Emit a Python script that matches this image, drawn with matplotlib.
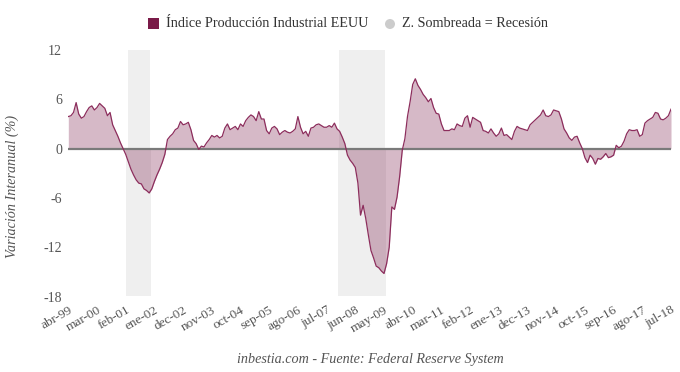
import matplotlib
matplotlib.use("Agg")
import matplotlib.pyplot as plt
import numpy as np

# ---- data ----
months_es = ["ene", "feb", "mar", "abr", "may", "jun", "jul", "ago", "sep", "oct", "nov", "dec"]
start_year, start_month = 1999, 4  # abr-99
values = [
    3.9, 4.0, 4.4, 5.6, 4.2, 3.7, 3.9, 4.5, 5.0, 5.2,
    4.7, 5.0, 5.5, 5.2, 4.9, 4.0, 4.4, 2.9, 2.2, 1.5,
    0.7, 0.0, -0.7, -1.6, -2.5, -3.2, -3.8, -4.2, -4.3, -4.9,
    -5.1, -5.4, -4.9, -4.0, -3.2, -2.5, -1.7, -0.7, 1.1, 1.5,
    1.8, 2.3, 2.5, 3.3, 2.9, 3.0, 3.2, 2.3, 1.0, 0.6,
    -0.1, 0.3, 0.2, 0.7, 1.1, 1.6, 1.4, 1.6, 1.3, 1.5,
    2.5, 3.0, 2.3, 2.5, 2.7, 2.3, 3.0, 2.7, 3.4, 3.8,
    4.1, 3.9, 3.4, 4.5, 3.6, 3.6, 2.2, 1.8, 2.5, 2.7,
    2.4, 1.7, 2.0, 2.2, 2.0, 1.9, 2.1, 2.4, 3.9, 2.6,
    1.8, 2.1, 1.5, 2.5, 2.6, 2.9, 3.0, 2.8, 2.6, 2.6,
    2.8, 2.6, 3.1, 2.4, 2.1, 1.4, 0.6, -0.8, -1.4, -1.8,
    -2.3, -4.2, -8.1, -6.9, -8.5, -10.5, -12.4, -13.3, -14.3, -14.5,
    -14.9, -15.2, -14.0, -12.0, -7.1, -7.4, -5.9, -3.4, -0.2, 1.2,
    3.9, 5.7, 7.8, 8.5, 7.7, 7.2, 6.6, 6.2, 5.7, 6.1,
    5.0, 4.3, 4.2, 3.0, 2.2, 2.2, 2.2, 2.4, 2.3, 3.0,
    2.8, 2.7, 3.7, 4.0, 2.6, 3.8, 3.6, 3.4, 3.2, 2.2,
    2.1, 1.9, 2.4, 1.9, 1.5, 1.8, 2.5, 1.6, 1.7, 1.4,
    1.1, 2.1, 2.7, 2.5, 2.4, 2.3, 2.2, 2.9, 3.2, 3.5,
    3.8, 4.1, 4.7, 4.0, 3.9, 4.1, 4.7, 4.6, 4.5, 3.6,
    2.4, 1.9, 1.3, 1.0, 1.4, 1.5, 0.7, 0.0, -1.1, -1.7,
    -0.8, -1.2, -1.9, -1.2, -1.3, -1.0, -0.6, -1.1, -1.0, -0.8,
    0.4, 0.1, 0.3, 0.9, 1.8, 2.3, 2.2, 2.2, 2.3, 1.5,
    1.7, 3.1, 3.4, 3.6, 3.8, 4.4, 4.3, 3.6, 3.5, 3.7,
    4.0, 4.8,
]
# recession periods (first and last month, as labels)
recessions = [("mar-01", "nov-01"), ("dec-07", "may-09")]
y_ticks = [-18, -12, -6, 0, 6, 12]
tick_step = 11

labels = []
y, m = start_year, start_month
for _ in values:
    labels.append(f"{months_es[m-1]}-{y % 100:02d}")
    m += 1
    if m > 12:
        m = 1
        y += 1

x = np.arange(len(values))
v = np.array(values)

line_c = "#8c2d5c"
fill_c = (0.47, 0.10, 0.28, 0.30)
legend_c = "#7a1a48"
band_c = "#efefef"
txt_c = "#555555"

plt.rcParams['font.family'] = ['Liberation Serif', 'DejaVu Serif']

W, H = 680, 372
fig = plt.figure(figsize=(6.8, 3.72), dpi=100)
ax = fig.add_axes([68.3/W, 1-296.5/H, (671-68.3)/W, (296.5-50)/H])

for s, e in recessions:
    i0, i1 = labels.index(s), labels.index(e)
    ax.fill_between([i0-0.3, i1+0.3], 0, 12, color=band_c, lw=0, zorder=0)
    ax.fill_between([i0-0.8, i1+0.8], -18, 0, color=band_c, lw=0, zorder=0)

ax.fill_between(x, v, 0, color=fill_c, lw=0, zorder=1)
ax.plot(x, v, color=line_c, lw=0.9, zorder=3)
ax.axhline(0, color="#7a7a7a", lw=1.6, zorder=2)

ax.set_xlim(0, len(values)-1)
ax.set_ylim(-18, 12)
ax.set_yticks(y_ticks)
ax.set_yticklabels([str(t) for t in y_ticks], fontsize=10, color=txt_c)
tick_idx = list(range(0, len(values), tick_step))
ax.set_xticks(tick_idx)
ax.set_xticklabels([labels[i] for i in tick_idx], rotation=30, ha="right",
                   rotation_mode="anchor", fontsize=9.5, color=txt_c)
ax.tick_params(axis="y", length=0, pad=4.5)
ax.tick_params(axis="x", length=0, pad=5.5)
for sp in ax.spines.values():
    sp.set_visible(False)

fig.text(12.5/W, 1-186/H, "Variación Interanual (%)", fontsize=10.2, style="italic",
         color=txt_c, rotation=90, ha="center", va="center")

# legend
fig.patches.append(matplotlib.patches.Rectangle((148/W, 1-29/H), 11/W, 11/H,
                   transform=fig.transFigure, facecolor=legend_c, edgecolor="none"))
fig.text(166/W, 1-23.5/H, "Índice Producción Industrial EEUU", fontsize=10.2,
         color="#333333", va="center", ha="left")
fig.patches.append(matplotlib.patches.Ellipse((390/W, 1-24/H), 10/W, 10/H,
                   transform=fig.transFigure, facecolor="#cccccc", edgecolor="none"))
fig.text(402/W, 1-23.5/H, "Z. Sombreada = Recesión", fontsize=10.2,
         color="#333333", va="center", ha="left")

fig.text(370/W, 1-359/H, "inbestia.com - Fuente: Federal Reserve System", fontsize=10.2,
         style="italic", color=txt_c, ha="center", va="center")

fig.savefig("out.png", dpi=100)
